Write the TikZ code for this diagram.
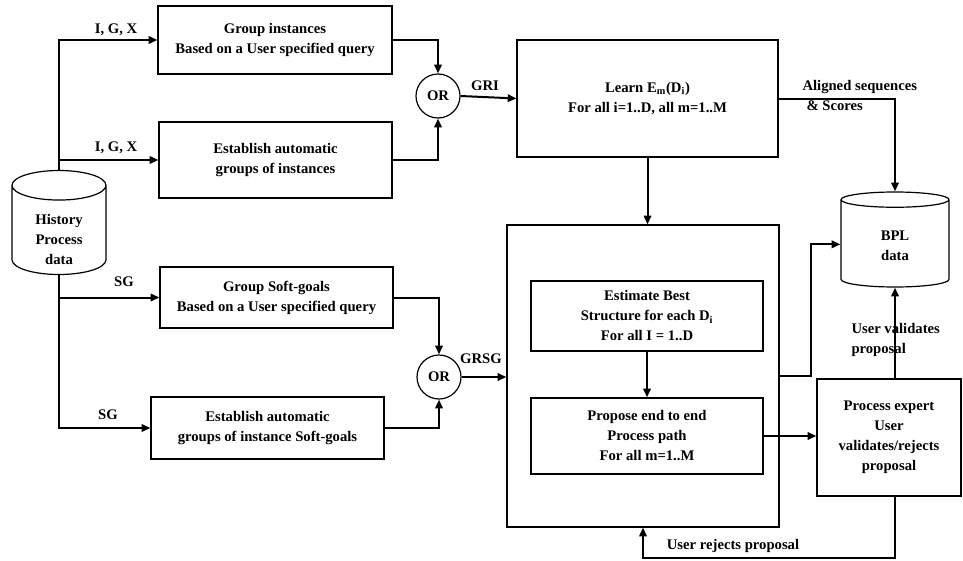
\documentclass[tikz,border=0pt]{standalone}
\usepackage{fontspec}
\setmainfont{Liberation Serif}
\usetikzlibrary{shapes.geometric,arrows.meta}

% lower the text of a store below its centre
\newcommand{\sunk}[2]{\raisebox{-#1}[\height][\depth]{\begin{tabular}{@{}c@{}}#2\end{tabular}}}

\tikzset{every picture/.style={line width=0.75pt}}
\tikzset{
  txt/.style={font=\bfseries\fontsize{11}{15}\selectfont},
  box/.style={draw, txt, line width=0.9pt, align=center, inner sep=0.75pt},
  orgate/.style={draw, txt, circle, line width=0.9pt, minimum size=33pt, inner sep=0pt},
  store/.style={draw, txt, cylinder, shape border rotate=90, anchor=shape center, line width=0.9pt, align=center, inner sep=0.75pt},
  lbl/.style={txt, inner sep=0.75pt},
  flow/.style={line width=1.5pt, -{Triangle[length=6.5pt,width=5.5pt]}},
}

\begin{document}
\begin{tikzpicture}[x=0.75pt,y=0.75pt,yscale=-1,xscale=1]
\useasboundingbox (0,0) rectangle (963,560);

%Data stores
\node [store, aspect=0.6, minimum width=70.5pt, minimum height=78pt] (hist) at (59,222.5) {\sunk{6.75pt}{History\\Process\\data}};
\node [store, aspect=0.5, minimum width=81pt, minimum height=71.25pt] (bpl) at (895,239.5) {\sunk{1.5pt}{BPL\\data}};

%Grouping boxes
\node [box, minimum width=175.5pt, minimum height=51pt] (grpinst) at (275,40) {Group instances\\Based on a User specified query};
\node [box, minimum width=174.75pt, minimum height=57pt] (autoinst) at (275.5,160) {Establish automatic\\groups of instances};
\node [box, minimum width=174.75pt, minimum height=45.75pt] (grpsg) at (276.5,297.5) {Group Soft-goals\\Based on a User specified query};
\node [box, minimum width=174.75pt, minimum height=46.5pt] (autosg) at (267.5,428) {Establish automatic\\groups of instance Soft-goals};

%OR gates
\node [orgate] (or1) at (438,96) {OR};
\node [orgate] (or2) at (439,377) {OR};

%Learning and structure boxes
\node [box, minimum width=195.75pt, minimum height=87.75pt] (learn) at (647.5,98.5) {Learn E\textsubscript{m}(D\textsubscript{i})\\For all i=1..D, all m=1..M};
\node [box, minimum width=204pt, minimum height=226.5pt] (big) at (643,376) {};
\node [box, minimum width=174pt, minimum height=52.5pt] (est) at (647,316) {Estimate Best\\Structure for each D\textsubscript{i}\\For all I = 1..D};
\node [box, minimum width=174pt, minimum height=57pt] (prop) at (647,436) {Propose end to end\\Process path\\For all m=1..M};
\node [box, minimum width=108pt, minimum height=87.75pt] (expert) at (889,437.5) {Process expert\\User\\validates/rejects\\proposal};

%Connectors
\draw [flow] (hist.north) |- (grpinst.west);
\draw [flow] (hist.north |- autoinst.west) -- (autoinst.west);
\draw [flow] (hist.south) |- (autosg.west);
\draw [flow] (hist.south |- grpsg.west) -- (grpsg.west);
\draw [flow] (grpinst.east) -| (or1.north);
\draw [flow] (autoinst.east) -| (or1.south);
\draw [flow] (grpsg.east) -| (or2.north);
\draw [flow] (autosg.east) -| (or2.south);
\draw [flow] (or1.east) -- (learn.west);
\draw [flow] (or2.east) -- (big.west |- or2.east);
\draw [flow] (learn.east) -| (bpl.north);
\draw [flow] (learn.south) -- (learn.south |- big.north);
\draw [flow] (est.south) -- (prop.north);
\draw [flow] (prop.east) -- (expert.west |- prop.east);
\draw [flow] (big.east) -- ++(31,0) |- (bpl.west);
\draw [flow] (bpl.south |- expert.north) -- (bpl.south);
\draw [flow] (bpl.south |- expert.south) -- ++(0,61) -| (big.south);

% Text Node
\node [lbl] (igx1) at (116,30) {I, G, X};
\node [lbl] (igx2) at (116,148) {I, G, X};
\node [lbl] (sg1) at (124,282) {SG};
\node [lbl] (sg2) at (108,415) {SG};
\node [lbl] (gri) at (485,86) {GRI};
\node [lbl] (grsg) at (481,359) {GRSG};
\node [lbl, anchor=west, align=left] (aligned) at (801,95.5) {Aligned sequences\\\hspace{3pt}\& Scores};
\node [lbl, anchor=west, align=left] (valid) at (850,340) {User validates\\proposal};
\node [lbl] (reject) at (733,546) {User rejects proposal};

\end{tikzpicture}
\end{document}
